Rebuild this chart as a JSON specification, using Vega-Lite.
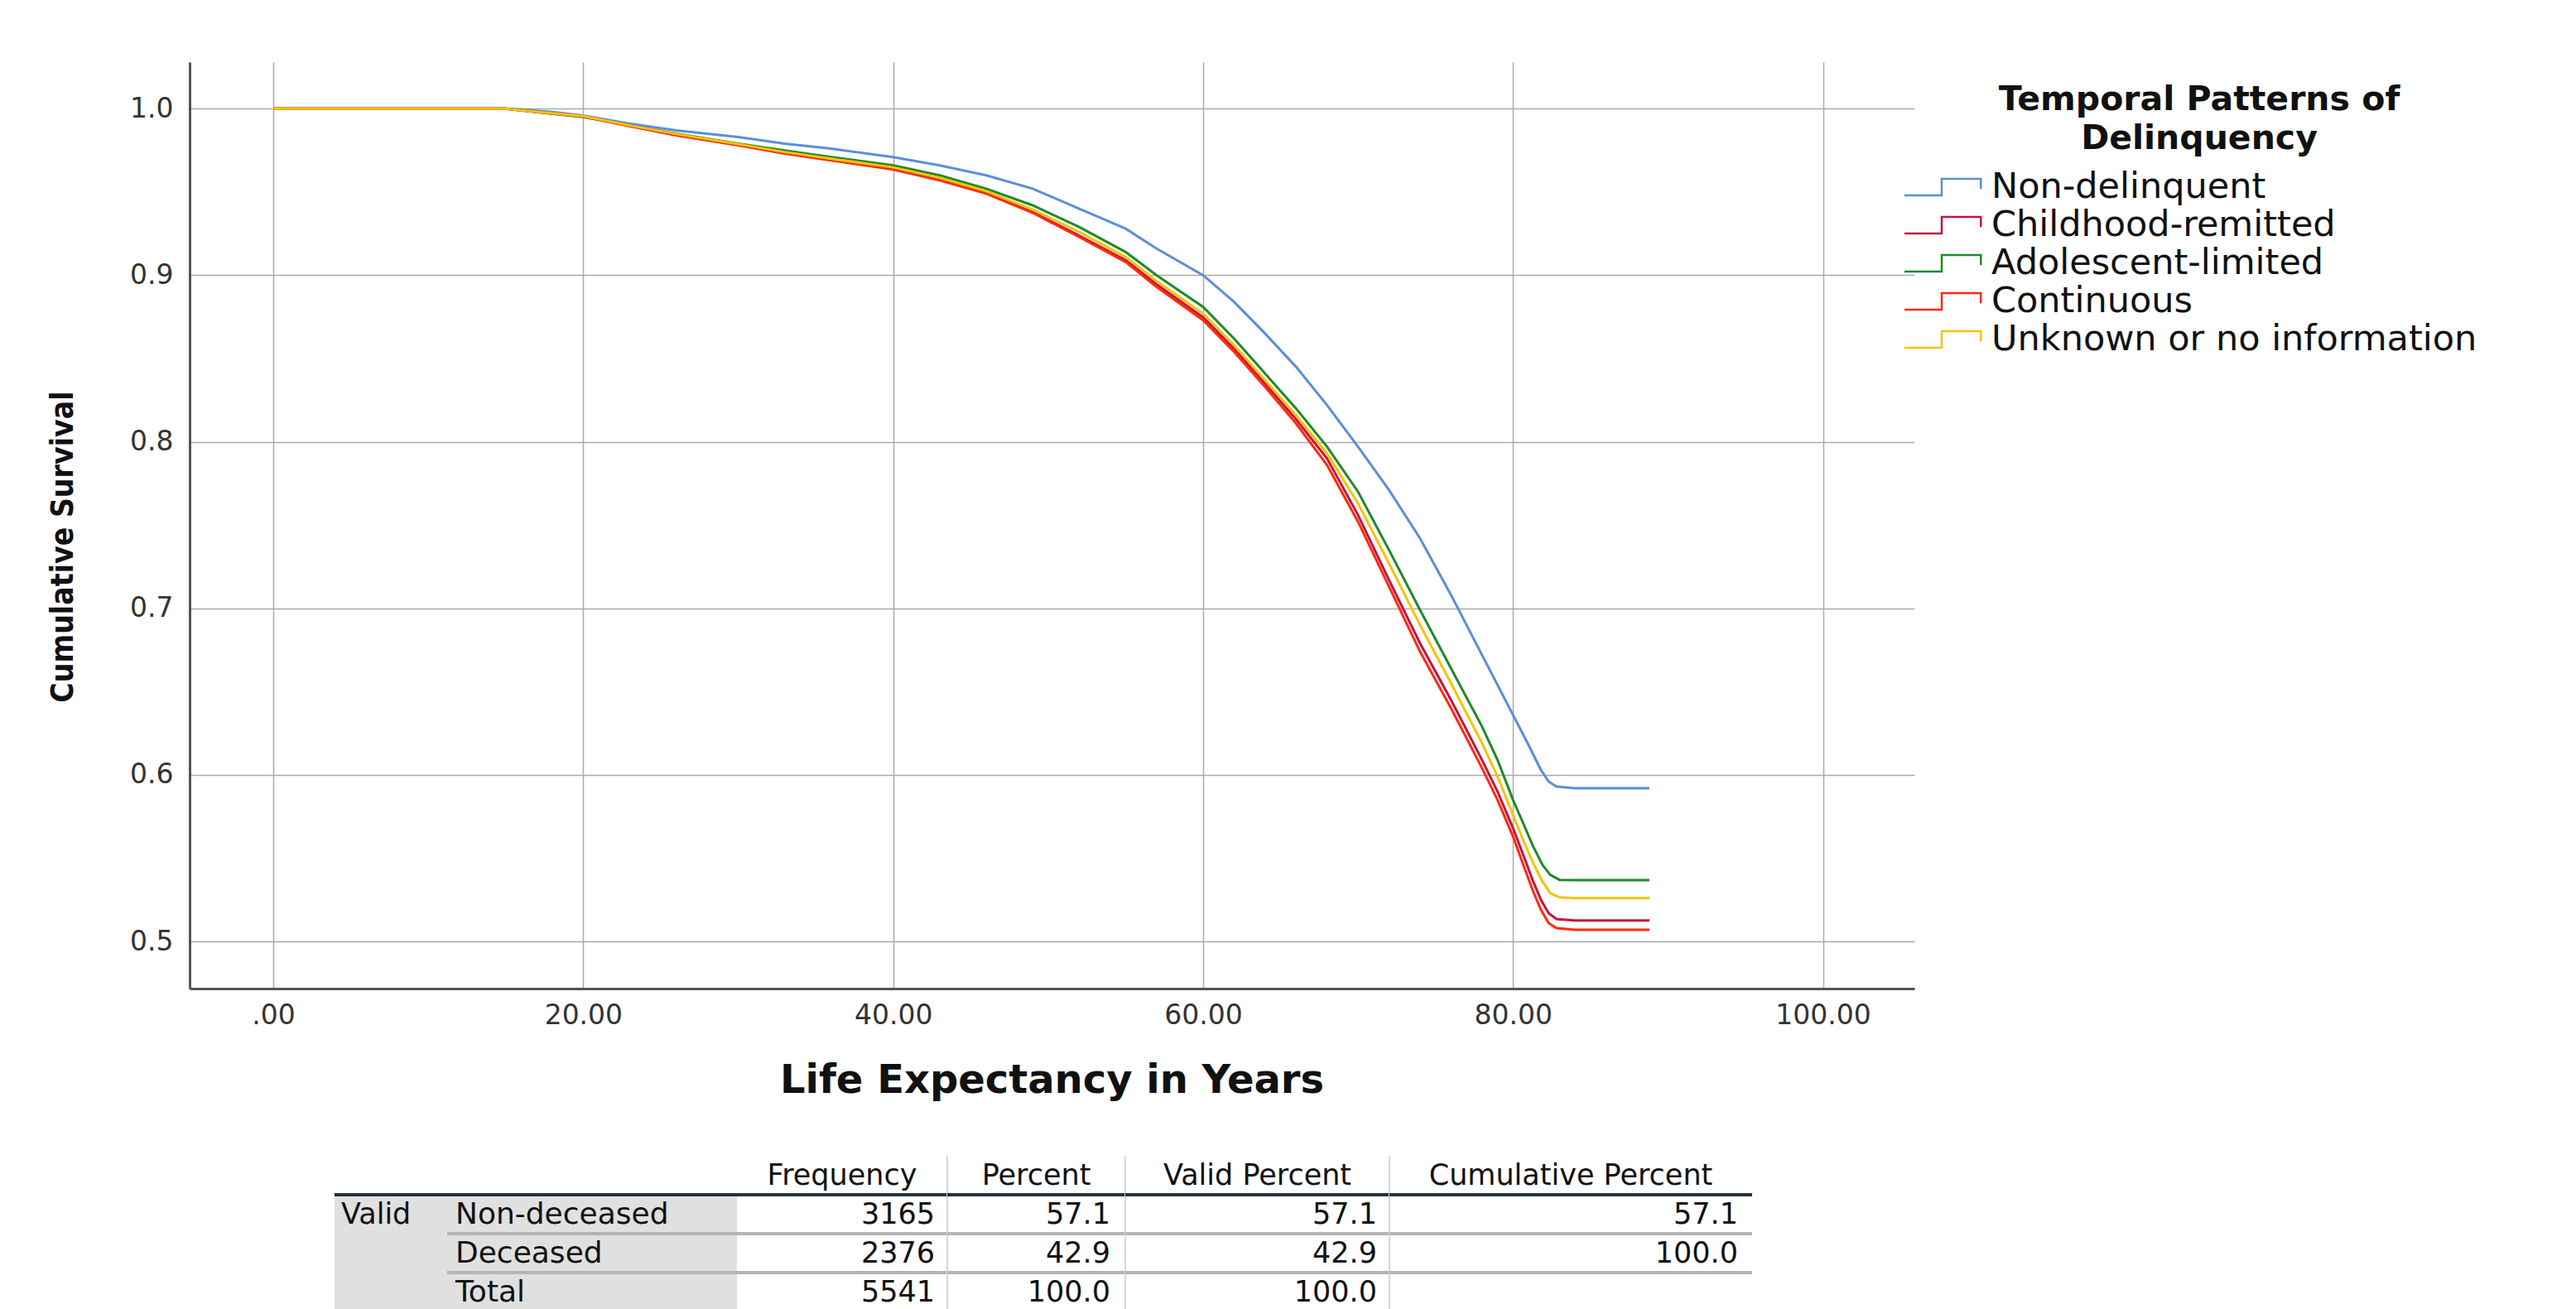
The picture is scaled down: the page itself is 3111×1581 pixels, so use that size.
{
  "$schema": "https://vega.github.io/schema/vega-lite/v6.json",
  "autosize": {"type": "pad"},
  "padding": {"left": 57, "top": 75, "right": 0, "bottom": 0},
  "background": "white",
  "config": {
    "view": {"stroke": null},
    "font": "DejaVu Sans"
  },
  "datasets": {
    "km": [
      {"g":"Non-delinquent","x":0,"s":1},{"g":"Non-delinquent","x":15,"s":1},{"g":"Non-delinquent","x":16,"s":0.9995},{"g":"Non-delinquent","x":18,"s":0.998},{"g":"Non-delinquent","x":20,"s":0.996},{"g":"Non-delinquent","x":23,"s":0.991},{"g":"Non-delinquent","x":26,"s":0.987},{"g":"Non-delinquent","x":30,"s":0.983},{"g":"Non-delinquent","x":33,"s":0.979},{"g":"Non-delinquent","x":36,"s":0.976},{"g":"Non-delinquent","x":40,"s":0.971},{"g":"Non-delinquent","x":43,"s":0.966},{"g":"Non-delinquent","x":46,"s":0.96},{"g":"Non-delinquent","x":49,"s":0.952},{"g":"Non-delinquent","x":52,"s":0.94},{"g":"Non-delinquent","x":55,"s":0.928},{"g":"Non-delinquent","x":57,"s":0.916},{"g":"Non-delinquent","x":60,"s":0.9},{"g":"Non-delinquent","x":62,"s":0.884},{"g":"Non-delinquent","x":64,"s":0.865},{"g":"Non-delinquent","x":66,"s":0.845},{"g":"Non-delinquent","x":68,"s":0.822},{"g":"Non-delinquent","x":70,"s":0.797},{"g":"Non-delinquent","x":72,"s":0.771},{"g":"Non-delinquent","x":74,"s":0.742},{"g":"Non-delinquent","x":76,"s":0.708},{"g":"Non-delinquent","x":78,"s":0.672},{"g":"Non-delinquent","x":80,"s":0.636},{"g":"Non-delinquent","x":81,"s":0.618},{"g":"Non-delinquent","x":81.8,"s":0.603},{"g":"Non-delinquent","x":82.3,"s":0.596},{"g":"Non-delinquent","x":82.8,"s":0.593},{"g":"Non-delinquent","x":84,"s":0.592},{"g":"Non-delinquent","x":88.8,"s":0.592},
      {"g":"Childhood-remitted","x":0,"s":1},{"g":"Childhood-remitted","x":15,"s":1},{"g":"Childhood-remitted","x":16,"s":0.999},{"g":"Childhood-remitted","x":18,"s":0.9972},{"g":"Childhood-remitted","x":20,"s":0.9955},{"g":"Childhood-remitted","x":23,"s":0.9898},{"g":"Childhood-remitted","x":26,"s":0.9845},{"g":"Childhood-remitted","x":30,"s":0.9785},{"g":"Childhood-remitted","x":33,"s":0.9735},{"g":"Childhood-remitted","x":36,"s":0.9695},{"g":"Childhood-remitted","x":40,"s":0.964},{"g":"Childhood-remitted","x":43,"s":0.9575},{"g":"Childhood-remitted","x":46,"s":0.9495},{"g":"Childhood-remitted","x":49,"s":0.938},{"g":"Childhood-remitted","x":52,"s":0.9238},{"g":"Childhood-remitted","x":55,"s":0.909},{"g":"Childhood-remitted","x":57,"s":0.8945},{"g":"Childhood-remitted","x":60,"s":0.8748},{"g":"Childhood-remitted","x":62,"s":0.856},{"g":"Childhood-remitted","x":64,"s":0.835},{"g":"Childhood-remitted","x":66,"s":0.8135},{"g":"Childhood-remitted","x":68,"s":0.79},{"g":"Childhood-remitted","x":70,"s":0.756},{"g":"Childhood-remitted","x":72,"s":0.717},{"g":"Childhood-remitted","x":74,"s":0.679},{"g":"Childhood-remitted","x":76,"s":0.645},{"g":"Childhood-remitted","x":78,"s":0.609},{"g":"Childhood-remitted","x":79,"s":0.59},{"g":"Childhood-remitted","x":80,"s":0.568},{"g":"Childhood-remitted","x":80.7,"s":0.551},{"g":"Childhood-remitted","x":81.3,"s":0.536},{"g":"Childhood-remitted","x":81.8,"s":0.525},{"g":"Childhood-remitted","x":82.3,"s":0.517},{"g":"Childhood-remitted","x":82.8,"s":0.5135},{"g":"Childhood-remitted","x":84,"s":0.5126},{"g":"Childhood-remitted","x":88.8,"s":0.5126},
      {"g":"Adolescent-limited","x":0,"s":1},{"g":"Adolescent-limited","x":15,"s":1},{"g":"Adolescent-limited","x":16,"s":0.999},{"g":"Adolescent-limited","x":18,"s":0.997},{"g":"Adolescent-limited","x":20,"s":0.995},{"g":"Adolescent-limited","x":23,"s":0.99},{"g":"Adolescent-limited","x":26,"s":0.985},{"g":"Adolescent-limited","x":30,"s":0.979},{"g":"Adolescent-limited","x":33,"s":0.975},{"g":"Adolescent-limited","x":36,"s":0.971},{"g":"Adolescent-limited","x":40,"s":0.966},{"g":"Adolescent-limited","x":43,"s":0.96},{"g":"Adolescent-limited","x":46,"s":0.952},{"g":"Adolescent-limited","x":49,"s":0.942},{"g":"Adolescent-limited","x":52,"s":0.929},{"g":"Adolescent-limited","x":55,"s":0.914},{"g":"Adolescent-limited","x":57,"s":0.9},{"g":"Adolescent-limited","x":60,"s":0.881},{"g":"Adolescent-limited","x":62,"s":0.862},{"g":"Adolescent-limited","x":64,"s":0.841},{"g":"Adolescent-limited","x":66,"s":0.82},{"g":"Adolescent-limited","x":68,"s":0.797},{"g":"Adolescent-limited","x":70,"s":0.77},{"g":"Adolescent-limited","x":72,"s":0.735},{"g":"Adolescent-limited","x":74,"s":0.699},{"g":"Adolescent-limited","x":76,"s":0.664},{"g":"Adolescent-limited","x":78,"s":0.629},{"g":"Adolescent-limited","x":79,"s":0.609},{"g":"Adolescent-limited","x":80,"s":0.585},{"g":"Adolescent-limited","x":80.7,"s":0.57},{"g":"Adolescent-limited","x":81.3,"s":0.557},{"g":"Adolescent-limited","x":81.9,"s":0.546},{"g":"Adolescent-limited","x":82.4,"s":0.54},{"g":"Adolescent-limited","x":83,"s":0.537},{"g":"Adolescent-limited","x":84,"s":0.5368},{"g":"Adolescent-limited","x":88.8,"s":0.5368},
      {"g":"Continuous","x":0,"s":1},{"g":"Continuous","x":15,"s":1},{"g":"Continuous","x":16,"s":0.999},{"g":"Continuous","x":18,"s":0.997},{"g":"Continuous","x":20,"s":0.9953},{"g":"Continuous","x":23,"s":0.9895},{"g":"Continuous","x":26,"s":0.984},{"g":"Continuous","x":30,"s":0.978},{"g":"Continuous","x":33,"s":0.973},{"g":"Continuous","x":36,"s":0.969},{"g":"Continuous","x":40,"s":0.9635},{"g":"Continuous","x":43,"s":0.957},{"g":"Continuous","x":46,"s":0.949},{"g":"Continuous","x":49,"s":0.9375},{"g":"Continuous","x":52,"s":0.923},{"g":"Continuous","x":55,"s":0.908},{"g":"Continuous","x":57,"s":0.893},{"g":"Continuous","x":60,"s":0.873},{"g":"Continuous","x":62,"s":0.854},{"g":"Continuous","x":64,"s":0.833},{"g":"Continuous","x":66,"s":0.811},{"g":"Continuous","x":68,"s":0.786},{"g":"Continuous","x":70,"s":0.752},{"g":"Continuous","x":72,"s":0.713},{"g":"Continuous","x":74,"s":0.674},{"g":"Continuous","x":76,"s":0.64},{"g":"Continuous","x":78,"s":0.604},{"g":"Continuous","x":79,"s":0.585},{"g":"Continuous","x":80,"s":0.563},{"g":"Continuous","x":80.7,"s":0.545},{"g":"Continuous","x":81.3,"s":0.53},{"g":"Continuous","x":81.8,"s":0.519},{"g":"Continuous","x":82.3,"s":0.511},{"g":"Continuous","x":82.8,"s":0.508},{"g":"Continuous","x":84,"s":0.507},{"g":"Continuous","x":88.8,"s":0.507},
      {"g":"Unknown or no information","x":0,"s":1},{"g":"Unknown or no information","x":15,"s":1},{"g":"Unknown or no information","x":16,"s":0.999},{"g":"Unknown or no information","x":18,"s":0.9973},{"g":"Unknown or no information","x":20,"s":0.9956},{"g":"Unknown or no information","x":23,"s":0.99},{"g":"Unknown or no information","x":26,"s":0.9848},{"g":"Unknown or no information","x":30,"s":0.9788},{"g":"Unknown or no information","x":33,"s":0.974},{"g":"Unknown or no information","x":36,"s":0.97},{"g":"Unknown or no information","x":40,"s":0.9648},{"g":"Unknown or no information","x":43,"s":0.9585},{"g":"Unknown or no information","x":46,"s":0.9505},{"g":"Unknown or no information","x":49,"s":0.9395},{"g":"Unknown or no information","x":52,"s":0.926},{"g":"Unknown or no information","x":55,"s":0.911},{"g":"Unknown or no information","x":57,"s":0.8965},{"g":"Unknown or no information","x":60,"s":0.877},{"g":"Unknown or no information","x":62,"s":0.858},{"g":"Unknown or no information","x":64,"s":0.837},{"g":"Unknown or no information","x":66,"s":0.816},{"g":"Unknown or no information","x":68,"s":0.793},{"g":"Unknown or no information","x":70,"s":0.763},{"g":"Unknown or no information","x":72,"s":0.727},{"g":"Unknown or no information","x":74,"s":0.69},{"g":"Unknown or no information","x":76,"s":0.655},{"g":"Unknown or no information","x":78,"s":0.619},{"g":"Unknown or no information","x":79,"s":0.599},{"g":"Unknown or no information","x":80,"s":0.576},{"g":"Unknown or no information","x":80.7,"s":0.56},{"g":"Unknown or no information","x":81.3,"s":0.547},{"g":"Unknown or no information","x":81.9,"s":0.536},{"g":"Unknown or no information","x":82.4,"s":0.529},{"g":"Unknown or no information","x":83,"s":0.5265},{"g":"Unknown or no information","x":84,"s":0.526},{"g":"Unknown or no information","x":88.8,"s":0.526}
    ],
    "tbl": [
      {"col":"s","row":"h","text":""},
      {"col":"a","row":"h","text":""},{"col":"a","row":"r1","text":"Valid"},{"col":"a","row":"r2","text":""},{"col":"a","row":"r3","text":""},
      {"col":"b","row":"h","text":""},{"col":"b","row":"r1","text":"Non-deceased"},{"col":"b","row":"r2","text":"Deceased"},{"col":"b","row":"r3","text":"Total"},
      {"col":"f","row":"h","text":"Frequency"},{"col":"f","row":"r1","text":"3165"},{"col":"f","row":"r2","text":"2376"},{"col":"f","row":"r3","text":"5541"},
      {"col":"p","row":"h","text":"Percent"},{"col":"p","row":"r1","text":"57.1"},{"col":"p","row":"r2","text":"42.9"},{"col":"p","row":"r3","text":"100.0"},
      {"col":"v","row":"h","text":"Valid Percent"},{"col":"v","row":"r1","text":"57.1"},{"col":"v","row":"r2","text":"42.9"},{"col":"v","row":"r3","text":"100.0"},
      {"col":"c","row":"h","text":"Cumulative Percent"},{"col":"c","row":"r1","text":"57.1"},{"col":"c","row":"r2","text":"100.0"},{"col":"c","row":"r3","text":""}
    ]
  },
  "resolve": {"scale": {"x": "independent", "y": "independent"}},
  "spacing": 66,
  "vconcat": [
    {
      "width": 2083,
      "height": 1119,
      "data": {"name": "km"},
      "mark": {"type": "line", "strokeWidth": 3},
      "encoding": {
        "x": {
          "field": "x", "type": "quantitative",
          "scale": {"domain": [-5.4, 105.9], "nice": false, "zero": false},
          "axis": {
            "values": [0, 20, 40, 60, 80, 100],
            "labelExpr": "datum.value == 0 ? '.00' : format(datum.value, '.2f')",
            "ticks": false, "domainColor": "#555555", "domainWidth": 3,
            "gridColor": "#aaaaaa", "gridWidth": 1.5,
            "labelFontSize": 33, "labelColor": "#333333", "labelPadding": 16,
            "title": "Life Expectancy in Years", "titleFontSize": 48, "titleFontWeight": "bold", "titleColor": "#111111",
            "titleX": 1041, "titleY": 111, "titleBaseline": "middle", "titleAlign": "center"
          }
        },
        "y": {
          "field": "s", "type": "quantitative",
          "scale": {"domain": [0.4717, 1.028], "nice": false, "zero": false},
          "axis": {
            "values": [0.5, 0.6, 0.7, 0.8, 0.9, 1.0], "format": ".1f",
            "ticks": false, "domainColor": "#555555", "domainWidth": 3,
            "gridColor": "#aaaaaa", "gridWidth": 1.5,
            "labelFontSize": 33, "labelColor": "#333333", "labelPadding": 20,
            "title": "Cumulative Survival", "titleFont": "DejaVu Sans Condensed", "titleFontSize": 37, "titleFontWeight": "bold", "titleColor": "#111111",
            "titleX": -153, "titleY": 585, "titleAngle": -90, "titleAlign": "center", "titleBaseline": "middle"
          }
        },
        "color": {
          "field": "g", "type": "nominal",
          "scale": {
            "domain": ["Non-delinquent", "Childhood-remitted", "Adolescent-limited", "Continuous", "Unknown or no information"],
            "range": ["#5b8fd8", "#c8143c", "#1f8a2a", "#ff2a10", "#f2c40c"]
          },
          "legend": {
            "orient": "none", "legendX": 2092, "legendY": 26,
            "title": ["Temporal Patterns of", "Delinquency"],
            "titleFontSize": 41, "titleFontWeight": "bold", "titleColor": "#111111", "titleLimit": 1000,
            "titleAlign": "center", "titleAnchor": "middle", "titleLineHeight": 47, "titlePadding": 13,
            "labelFontSize": 43, "labelColor": "#111111", "labelOffset": 36, "labelLimit": 1000,
            "symbolType": "M-2,0.44H0V-0.44H2.1V0.1", "symbolSize": 2025, "symbolStrokeWidth": 2.5,
            "rowPadding": 0
          }
        }
      }
    },
    {
      "resolve": {"scale": {"x": "independent"}},
      "spacing": 0,
      "bounds": "flush",
      "hconcat": [
        {
          "width": 175, "height": 188,
          "data": {"name": "tbl"},
          "transform": [{"filter": "datum.col == 's'"}],
          "mark": {"type": "text"},
          "encoding": {
            "y": {"field": "row", "type": "nominal", "scale": {"type": "band", "domain": ["h", "r1", "r2", "r3"], "paddingInner": 0, "paddingOuter": 0}, "axis": null},
            "text": {"field": "text"}
          }
        },
        {
          "width": 136, "height": 188,
          "data": {"name": "tbl"},
          "transform": [{"filter": "datum.col == 'a'"}],
          "encoding": {
            "y": {"field": "row", "type": "nominal", "scale": {"type": "band", "domain": ["h", "r1", "r2", "r3"], "paddingInner": 0, "paddingOuter": 0}, "axis": null}
          },
          "layer": [
            {
              "transform": [{"filter": "datum.row != 'h'"}],
              "mark": {"type": "rect", "fill": "#e0e0e0"},
              "encoding": {"x": {"field": "col", "type": "nominal", "scale": {"type": "band", "paddingInner": 0, "paddingOuter": 0}, "axis": null}}
            },
            {
              "transform": [{"filter": "datum.row == 'r1'"}],
              "mark": {"type": "rule", "color": "#26333d", "strokeWidth": 4},
              "encoding": {"y": {"field": "row", "type": "nominal", "bandPosition": 0}}
            },
            {
              "mark": {"type": "text", "align": "left", "dx": 8, "fontSize": 35, "color": "#111111"},
              "encoding": {
                "x": {"field": "col", "type": "nominal", "bandPosition": 0},
                "text": {"field": "text"}
              }
            }
          ]
        },
        {
          "width": 350, "height": 188,
          "data": {"name": "tbl"},
          "transform": [{"filter": "datum.col == 'b'"}],
          "encoding": {
            "y": {"field": "row", "type": "nominal", "scale": {"type": "band", "domain": ["h", "r1", "r2", "r3"], "paddingInner": 0, "paddingOuter": 0}, "axis": null}
          },
          "layer": [
            {
              "transform": [{"filter": "datum.row != 'h'"}],
              "mark": {"type": "rect", "fill": "#e0e0e0"},
              "encoding": {"x": {"field": "col", "type": "nominal", "scale": {"type": "band", "paddingInner": 0, "paddingOuter": 0}, "axis": null}}
            },
            {
              "transform": [{"filter": "datum.row == 'r2' || datum.row == 'r3'"}],
              "mark": {"type": "rule", "color": "#b4b4b4", "strokeWidth": 4},
              "encoding": {"y": {"field": "row", "type": "nominal", "bandPosition": 0}}
            },
            {
              "transform": [{"filter": "datum.row == 'r1'"}],
              "mark": {"type": "rule", "color": "#26333d", "strokeWidth": 4},
              "encoding": {"y": {"field": "row", "type": "nominal", "bandPosition": 0}}
            },
            {
              "mark": {"type": "text", "align": "left", "dx": 10, "fontSize": 36, "color": "#111111"},
              "encoding": {
                "x": {"field": "col", "type": "nominal", "bandPosition": 0},
                "text": {"field": "text"}
              }
            }
          ]
        },
        {
          "width": 254, "height": 188,
          "data": {"name": "tbl"},
          "transform": [{"filter": "datum.col == 'f'"}],
          "encoding": {
            "x": {"field": "col", "type": "nominal", "scale": {"type": "band", "paddingInner": 0, "paddingOuter": 0}, "axis": null},
            "y": {"field": "row", "type": "nominal", "scale": {"type": "band", "domain": ["h", "r1", "r2", "r3"], "paddingInner": 0, "paddingOuter": 0}, "axis": null}
          },
          "layer": [
            {
              "transform": [{"filter": "datum.row == 'r2' || datum.row == 'r3'"}],
              "mark": {"type": "rule", "color": "#b4b4b4", "strokeWidth": 4},
              "encoding": {"x": null, "y": {"field": "row", "type": "nominal", "bandPosition": 0}}
            },
            {
              "transform": [{"filter": "datum.row == 'r1'"}],
              "mark": {"type": "rule", "color": "#26333d", "strokeWidth": 4},
              "encoding": {"x": null, "y": {"field": "row", "type": "nominal", "bandPosition": 0}}
            },
            {
              "transform": [{"filter": "datum.row == 'h'"}],
              "mark": {"type": "text", "align": "center", "fontSize": 35, "color": "#111111"},
              "encoding": {"text": {"field": "text"}}
            },
            {
              "transform": [{"filter": "datum.row != 'h'"}],
              "mark": {"type": "text", "align": "right", "dx": -15, "fontSize": 35, "color": "#111111"},
              "encoding": {"x": {"field": "col", "type": "nominal", "bandPosition": 1}, "text": {"field": "text"}}
            }
          ]
        },
        {
          "width": 215, "height": 188,
          "data": {"name": "tbl"},
          "transform": [{"filter": "datum.col == 'p'"}],
          "encoding": {
            "x": {"field": "col", "type": "nominal", "scale": {"type": "band", "paddingInner": 0, "paddingOuter": 0}, "axis": null},
            "y": {"field": "row", "type": "nominal", "scale": {"type": "band", "domain": ["h", "r1", "r2", "r3"], "paddingInner": 0, "paddingOuter": 0}, "axis": null}
          },
          "layer": [
            {
              "transform": [{"filter": "datum.row == 'h'"}],
              "mark": {"type": "rule", "color": "#d8d8d8", "strokeWidth": 2},
              "encoding": {"y": null, "x": {"field": "col", "type": "nominal", "bandPosition": 0}}
            },
            {
              "transform": [{"filter": "datum.row == 'r2' || datum.row == 'r3'"}],
              "mark": {"type": "rule", "color": "#b4b4b4", "strokeWidth": 4},
              "encoding": {"x": null, "y": {"field": "row", "type": "nominal", "bandPosition": 0}}
            },
            {
              "transform": [{"filter": "datum.row == 'r1'"}],
              "mark": {"type": "rule", "color": "#26333d", "strokeWidth": 4},
              "encoding": {"x": null, "y": {"field": "row", "type": "nominal", "bandPosition": 0}}
            },
            {
              "transform": [{"filter": "datum.row == 'h'"}],
              "mark": {"type": "text", "align": "center", "fontSize": 35, "color": "#111111"},
              "encoding": {"text": {"field": "text"}}
            },
            {
              "transform": [{"filter": "datum.row != 'h'"}],
              "mark": {"type": "text", "align": "right", "dx": -18, "fontSize": 35, "color": "#111111"},
              "encoding": {"x": {"field": "col", "type": "nominal", "bandPosition": 1}, "text": {"field": "text"}}
            }
          ]
        },
        {
          "width": 319, "height": 188,
          "data": {"name": "tbl"},
          "transform": [{"filter": "datum.col == 'v'"}],
          "encoding": {
            "x": {"field": "col", "type": "nominal", "scale": {"type": "band", "paddingInner": 0, "paddingOuter": 0}, "axis": null},
            "y": {"field": "row", "type": "nominal", "scale": {"type": "band", "domain": ["h", "r1", "r2", "r3"], "paddingInner": 0, "paddingOuter": 0}, "axis": null}
          },
          "layer": [
            {
              "transform": [{"filter": "datum.row == 'h'"}],
              "mark": {"type": "rule", "color": "#d8d8d8", "strokeWidth": 2},
              "encoding": {"y": null, "x": {"field": "col", "type": "nominal", "bandPosition": 0}}
            },
            {
              "transform": [{"filter": "datum.row == 'r2' || datum.row == 'r3'"}],
              "mark": {"type": "rule", "color": "#b4b4b4", "strokeWidth": 4},
              "encoding": {"x": null, "y": {"field": "row", "type": "nominal", "bandPosition": 0}}
            },
            {
              "transform": [{"filter": "datum.row == 'r1'"}],
              "mark": {"type": "rule", "color": "#26333d", "strokeWidth": 4},
              "encoding": {"x": null, "y": {"field": "row", "type": "nominal", "bandPosition": 0}}
            },
            {
              "transform": [{"filter": "datum.row == 'h'"}],
              "mark": {"type": "text", "align": "center", "fontSize": 35, "color": "#111111"},
              "encoding": {"text": {"field": "text"}}
            },
            {
              "transform": [{"filter": "datum.row != 'h'"}],
              "mark": {"type": "text", "align": "right", "dx": -15, "fontSize": 35, "color": "#111111"},
              "encoding": {"x": {"field": "col", "type": "nominal", "bandPosition": 1}, "text": {"field": "text"}}
            }
          ]
        },
        {
          "width": 438, "height": 188,
          "data": {"name": "tbl"},
          "transform": [{"filter": "datum.col == 'c'"}],
          "encoding": {
            "x": {"field": "col", "type": "nominal", "scale": {"type": "band", "paddingInner": 0, "paddingOuter": 0}, "axis": null},
            "y": {"field": "row", "type": "nominal", "scale": {"type": "band", "domain": ["h", "r1", "r2", "r3"], "paddingInner": 0, "paddingOuter": 0}, "axis": null}
          },
          "layer": [
            {
              "transform": [{"filter": "datum.row == 'h'"}],
              "mark": {"type": "rule", "color": "#d8d8d8", "strokeWidth": 2},
              "encoding": {"y": null, "x": {"field": "col", "type": "nominal", "bandPosition": 0}}
            },
            {
              "transform": [{"filter": "datum.row == 'r2' || datum.row == 'r3'"}],
              "mark": {"type": "rule", "color": "#b4b4b4", "strokeWidth": 4},
              "encoding": {"x": null, "y": {"field": "row", "type": "nominal", "bandPosition": 0}}
            },
            {
              "transform": [{"filter": "datum.row == 'r1'"}],
              "mark": {"type": "rule", "color": "#26333d", "strokeWidth": 4},
              "encoding": {"x": null, "y": {"field": "row", "type": "nominal", "bandPosition": 0}}
            },
            {
              "transform": [{"filter": "datum.row == 'h'"}],
              "mark": {"type": "text", "align": "center", "fontSize": 35, "color": "#111111"},
              "encoding": {"text": {"field": "text"}}
            },
            {
              "transform": [{"filter": "datum.row != 'h'"}],
              "mark": {"type": "text", "align": "right", "dx": -17, "fontSize": 35, "color": "#111111"},
              "encoding": {"x": {"field": "col", "type": "nominal", "bandPosition": 1}, "text": {"field": "text"}}
            }
          ]
        }
      ]
    }
  ]
}
